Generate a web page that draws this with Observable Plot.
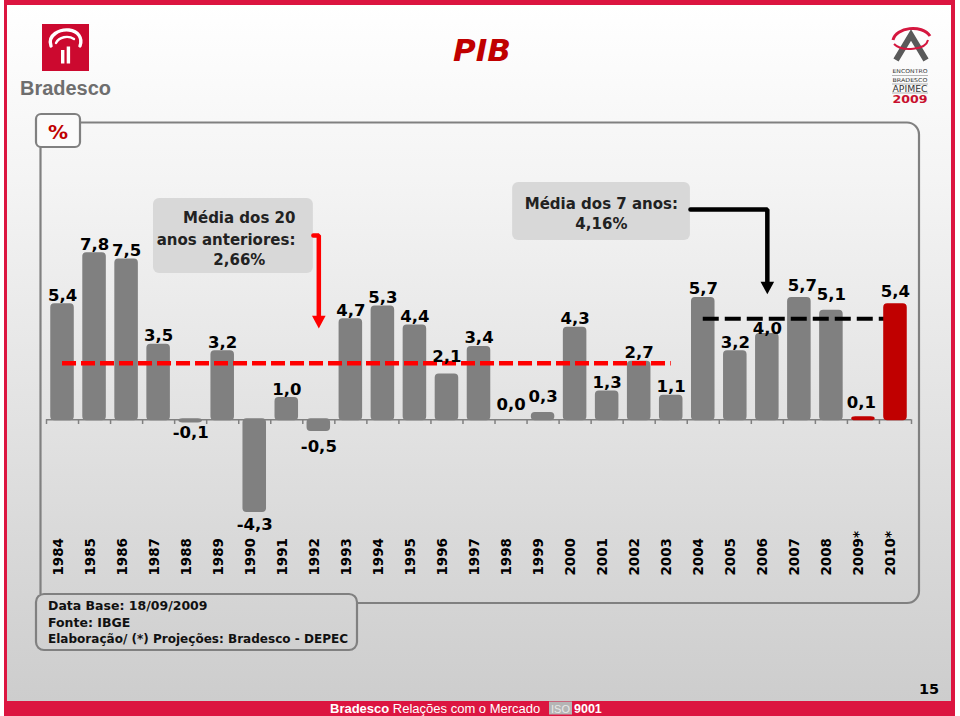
<!DOCTYPE html>
<html lang="pt-BR">
<head>
<meta charset="utf-8">
<title>PIB</title>
<script src="https://cdn.jsdelivr.net/npm/d3@7"></script>
<script src="https://cdn.jsdelivr.net/npm/@observablehq/plot@0.6"></script>
<style>
  html, body { margin:0; padding:0; width:960px; height:716px; overflow:hidden; background:#fff; }
  #slide { position:absolute; left:4px; top:0; width:944px; height:696px;
    border-top:5px solid #dc1540; border-left:3px solid #dc1540; border-right:4px solid #dc1540; border-bottom:15px solid #dc1540;
    background: linear-gradient(to bottom, #ffffff 0%, #f4f4f4 25%, #cdcdcd 100%); }
  #deco, #chart { position:absolute; left:0; top:0; }
</style>
</head>
<body>
<div id="slide"></div>
<svg id="deco" width="960" height="716" viewBox="0 0 960 716" xmlns="http://www.w3.org/2000/svg">
  <!-- Bradesco logo -->
  <rect x="42" y="24" width="47" height="47" fill="#cc092f"/>
  <path d="M51,46 C47,35 60,29 69,30 C78,31 83,38 80,46" stroke="#fff" stroke-width="3.4" fill="none" stroke-linecap="round"/>
  <path d="M56,43 C59,37 68,35 74,39" stroke="#fff" stroke-width="2.4" fill="none" stroke-linecap="round"/>
  <rect x="61" y="50" width="3.4" height="13.5" fill="#fff"/>
  <rect x="66.7" y="46.5" width="3.4" height="17" fill="#fff"/>
  <text x="20" y="94.5" font-family="Liberation Sans, Arial, sans-serif" font-weight="bold" font-size="20" fill="#6e6e6e" textLength="91" lengthAdjust="spacingAndGlyphs">Bradesco</text>

  <!-- APIMEC logo -->
  <path d="M896,60 L911,35 L926,60" stroke="#5a5a5a" stroke-width="6" fill="none" stroke-linejoin="miter"/>
  <path d="M893,40 C896,27 922,24 930,36" stroke="#d5173f" stroke-width="3" fill="none"/>
  <path d="M894,44 C902,52 926,50 928,40" stroke="#d5173f" stroke-width="2" fill="none"/>
  <text x="910" y="73" text-anchor="middle" font-family="DejaVu Sans, sans-serif" font-size="5.3" fill="#333" textLength="35" lengthAdjust="spacingAndGlyphs">ENCONTRO</text>
  <line x1="892" x2="928" y1="75.5" y2="75.5" stroke="#888" stroke-width="0.6"/>
  <text x="910" y="82" text-anchor="middle" font-family="DejaVu Sans, sans-serif" font-size="5.3" fill="#333" textLength="35" lengthAdjust="spacingAndGlyphs">BRADESCO</text>
  <line x1="892" x2="928" y1="84" y2="84" stroke="#888" stroke-width="0.6"/>
  <text x="910" y="91.5" text-anchor="middle" font-family="DejaVu Sans, sans-serif" font-size="8" fill="#333" textLength="35" lengthAdjust="spacingAndGlyphs">APIMEC</text>
  <line x1="892" x2="928" y1="93" y2="93" stroke="#888" stroke-width="0.6"/>
  <text x="910" y="102.5" text-anchor="middle" font-family="DejaVu Sans, sans-serif" font-weight="bold" font-size="10.5" fill="#c8102e" textLength="35" lengthAdjust="spacingAndGlyphs">2009</text>

  <!-- Title -->
  <text x="482" y="61" text-anchor="middle" font-family="DejaVu Sans, sans-serif" font-style="italic" font-weight="bold" font-size="31" fill="#c00000">PIB</text>

  <!-- Panel frame -->
  <path d="M80,122.5 H907 A12,12 0 0 1 919,134.5 V591 A12,12 0 0 1 907,603 H357" stroke="#808080" stroke-width="2.2" fill="none"/>
  <line x1="40.5" x2="40.5" y1="147" y2="594" stroke="#808080" stroke-width="2.2"/>
  <rect x="36" y="114" width="44" height="33" rx="5" fill="#fbfbfb" stroke="#808080" stroke-width="2.2"/>
  <text x="58" y="139" text-anchor="middle" font-family="DejaVu Sans, sans-serif" font-weight="bold" font-size="20" fill="#c00000">%</text>

  <!-- Source box -->
  <rect x="36" y="594" width="321" height="56" rx="8" fill="none" stroke="#808080" stroke-width="2.2"/>
  <g font-family="DejaVu Sans, sans-serif" font-weight="bold" font-size="12.5" fill="#111">
    <text x="48" y="610">Data Base: 18/09/2009</text>
    <text x="48" y="627">Fonte: IBGE</text>
    <text x="48" y="643" textLength="300" lengthAdjust="spacingAndGlyphs">Elaboração/ (*) Projeções: Bradesco - DEPEC</text>
  </g>

  <!-- Page number and footer -->
  <text x="929" y="694" text-anchor="middle" font-family="DejaVu Sans, sans-serif" font-weight="bold" font-size="14.5" fill="#000">15</text>
  <text x="330" y="713" font-family="Liberation Sans, Arial, sans-serif" font-size="13" fill="#fff"><tspan font-weight="bold">Bradesco</tspan> Relações com o Mercado</text>
  <rect x="549" y="701.5" width="23" height="13" fill="#b5b5b5"/>
  <text x="560.5" y="712.5" text-anchor="middle" font-family="Liberation Sans, Arial, sans-serif" font-size="11" fill="#e8e8e8">ISO</text>
  <text x="574" y="713" font-family="Liberation Sans, Arial, sans-serif" font-weight="bold" font-size="12.5" fill="#fff">9001</text>
</svg>
<div id="chart"></div>
<script>
// ---------- data ----------
const years = [1984, 1985, 1986, 1987, 1988, 1989, 1990, 1991, 1992, 1993, 1994, 1995, 1996, 1997,
               1998, 1999, 2000, 2001, 2002, 2003, 2004, 2005, 2006, 2007, 2008, 2009, 2010];
const yearLabels = ["1984", "1985", "1986", "1987", "1988", "1989", "1990", "1991", "1992", "1993", "1994",
                    "1995", "1996", "1997", "1998", "1999", "2000", "2001", "2002", "2003", "2004", "2005",
                    "2006", "2007", "2008", "2009*", "2010*"];
const gdpGrowth = [5.4, 7.8, 7.5, 3.5, -0.1, 3.2, -4.3, 1.0, -0.5, 4.7, 5.3, 4.4, 2.1, 3.4,
                   0.0, 0.3, 4.3, 1.3, 2.7, 1.1, 5.7, 3.2, 4.0, 5.7, 5.1, 0.1, 5.4];
const projectionYears = [2009, 2010];

const avgFrom = [1984, 2004];
const avgTo = [2003, 2010];
const avgValues = [2.66, 4.16];
const avgLineLevels = [2.66, 4.75];   // level at which each dashed line is drawn in the reference
const avgColors = ["#ff0000", "#000000"];

// ---------- styling helpers (not data) ----------
const GRAY = "#808080", RED = "#c00000";
const FONT = "DejaVu Sans, Verdana, sans-serif";
const labelLift = {1988: 3, 1992: -3, 1996: 9, 1998: 6, 1999: 7, 2006: -3, 2007: 3, 2008: 7, 2009: 6, 2010: 4};
const labelShift = {2007: 3, 2009: -2};

const fmt = v => v.toFixed(1).replace(".", ",");
const fmtPct = v => v.toFixed(2).replace(".", ",") + "%";

const data = years.map((year, i) => ({
  year, label: yearLabels[i], value: gdpGrowth[i], projected: projectionYears.includes(year)
}));
const averages = avgFrom.map((from, i) => ({from, to: avgTo[i], value: avgValues[i], level: avgLineLevels[i], color: avgColors[i]}));
const boundaries = years.map(y => y - 0.5).concat([years[years.length - 1] + 0.5]);

// annotation placement (chart units)
const noteBoxes = [
  {x1: 1986.84, x2: 1991.83, y1: 6.87, y2: 10.39},
  {x1: 1998.05, x2: 2003.6, y1: 8.42, y2: 11.14}
];
const noteLines = [
  {text: "Média dos 20", x: 1991.27, y: 9.24, anchor: "end"},
  {text: "anos anteriores:", x: 1991.27, y: 8.23, anchor: "end"},
  {text: fmtPct(avgValues[0]), x: 1989.52, y: 7.29, anchor: "middle"},
  {text: "Média dos 7 anos:", x: 2000.82, y: 9.92, anchor: "middle"},
  {text: fmtPct(avgValues[1]), x: 2000.82, y: 8.97, anchor: "middle"}
];
const arrows = [
  {color: "#ff0000", path: [[1991.83, 8.65], [1992, 8.65], [1992, 4.75]], tip: [1992, 4.29]},
  {color: "#000000", path: [[2003.6, 9.87], [2006, 9.87], [2006, 6.35]], tip: [2006, 5.89]}
];
const arrowHead = {
  draw(ctx, size) {
    const r = Math.sqrt(size / Math.PI);
    ctx.moveTo(-r, -1.85 * r); ctx.lineTo(r, -1.85 * r); ctx.lineTo(0, 0); ctx.closePath();
  }
};

// value labels grouped by offset
const labelGroups = d3.groups(data, d => {
  const neg = d.value < 0;
  const lift = labelLift[d.year] || 0;
  const shift = labelShift[d.year] || 0;
  return `${neg ? 1 : 0}|${lift}|${shift}`;
});
const valueLabelMarks = labelGroups.map(([key, rows]) => {
  const [neg, lift, shift] = key.split("|").map(Number);
  return Plot.text(rows, {
    x: "year", y: "value", text: d => fmt(d.value),
    lineAnchor: neg ? "top" : "bottom",
    dy: neg ? 7 - lift : -4 - lift, dx: shift,
    fontSize: 16.5, fontWeight: "bold", fill: "#000"
  });
});

const barOpts = {
  x1: d => d.year - 0.5, x2: d => d.year + 0.5, y1: 0, y2: "value",
  insetLeft: 5.25, insetRight: 5.25, rx: 3, strokeWidth: 2
};

const chart = Plot.plot({
  width: 960, height: 716,
  marginLeft: 46, marginRight: 49, marginTop: 163.7, marginBottom: 168.9,
  x: {domain: [1983.5, 2010.5], axis: null},
  y: {domain: [-6, 12], axis: null},
  style: {background: "transparent", overflow: "visible", fontFamily: FONT},
  marks: [
    Plot.ruleY([0], {stroke: GRAY, strokeWidth: 1.5}),
    Plot.ruleX(boundaries, {x: d => d, y1: 0, y2: -0.22, stroke: GRAY, strokeWidth: 1.5}),
    Plot.rect(data.filter(d => !d.projected), {...barOpts, fill: GRAY, stroke: GRAY}),
    ...averages.map(a => Plot.ruleY([a], {
      y: "level", x1: "from", x2: "to", stroke: a.color,
      strokeWidth: a.color === "#000000" ? 4 : 4.5,
      strokeDasharray: a.color === "#000000" ? "16,6" : "14,5"
    })),
    Plot.rect(data.filter(d => d.projected), {...barOpts, fill: RED, stroke: RED}),
    ...valueLabelMarks,
    Plot.text(data, {
      x: "year", text: "label", frameAnchor: "bottom", rotate: -90, textAnchor: "start",
      dy: 28, fontSize: 13.5, fontWeight: "bold", fill: "#000"
    }),
    Plot.rect(noteBoxes, {x1: "x1", x2: "x2", y1: "y1", y2: "y2", fill: "#d8d8d8", rx: 6}),
    Plot.text(noteLines.filter(d => d.anchor === "end"), {
      x: "x", y: "y", text: "text", textAnchor: "end", lineAnchor: "bottom",
      fontSize: 15, fontWeight: "bold", fill: "#222"
    }),
    Plot.text(noteLines.filter(d => d.anchor === "middle"), {
      x: "x", y: "y", text: "text", textAnchor: "middle", lineAnchor: "bottom",
      fontSize: 15, fontWeight: "bold", fill: "#222"
    }),
    ...arrows.flatMap(a => [
      Plot.line(a.path, {x: d => d[0], y: d => d[1], stroke: a.color, strokeWidth: 4.5, strokeLinejoin: "miter"}),
      Plot.dot([a.tip], {x: d => d[0], y: d => d[1], symbol: arrowHead, r: 6.8, fill: a.color, stroke: "none"})
    ])
  ]
});
document.getElementById("chart").appendChild(chart);
</script>
</body>
</html>
